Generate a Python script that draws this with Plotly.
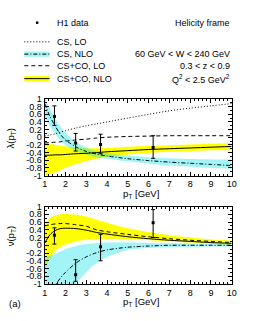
import plotly.graph_objects as go

W, H = 258, 321

# ---------------- data ----------------
pt = [1, 1.25, 1.5, 1.75, 2, 2.5, 3, 3.5, 4, 5, 6, 7, 8, 9, 10]

# lambda(pT) panel
lam_cs_lo = [0.03, 0.06, 0.09, 0.13, 0.17, 0.24, 0.30, 0.35, 0.40, 0.50, 0.60, 0.69, 0.76, 0.82, 0.88]
lam_csco_lo = [-0.15, -0.14, -0.13, -0.12, -0.10, -0.07, -0.05, -0.02, 0.00, 0.02, 0.03, 0.04, 0.04, 0.04, 0.04]
lam_cs_nlo = [0.88, 0.55, 0.30, 0.08, -0.07, -0.25, -0.37, -0.44, -0.49, -0.56, -0.61, -0.65, -0.68, -0.71, -0.74]
lam_cs_nlo_hi = [1.05, 0.75, 0.50, 0.28, 0.12, -0.12, -0.27, -0.36, -0.41, -0.48, -0.52, -0.55, -0.57, -0.58, -0.58]
lam_cs_nlo_lo = [0.55, 0.30, 0.10, -0.08, -0.20, -0.35, -0.45, -0.52, -0.56, -0.63, -0.69, -0.74, -0.77, -0.80, -0.83]
lam_csco_nlo = [-0.47, -0.47, -0.46, -0.46, -0.45, -0.43, -0.42, -0.40, -0.38, -0.35, -0.32, -0.30, -0.28, -0.26, -0.24]
lam_csco_nlo_hi = [-0.15, -0.17, -0.20, -0.22, -0.24, -0.27, -0.29, -0.29, -0.28, -0.25, -0.23, -0.21, -0.19, -0.17, -0.15]
lam_csco_nlo_lo = [-1.05, -0.97, -0.92, -0.86, -0.80, -0.70, -0.62, -0.56, -0.51, -0.45, -0.41, -0.38, -0.36, -0.34, -0.33]

# nu(pT) panel
nu_csco_lo = [0.50, 0.53, 0.55, 0.56, 0.56, 0.53, 0.49, 0.40, 0.35, 0.28, 0.22, 0.17, 0.13, 0.10, 0.07]
nu_cs_nlo = [-1.8, -1.35, -1.05, -0.85, -0.70, -0.46, -0.30, -0.19, -0.12, -0.05, -0.02, 0.00, 0.00, 0.00, 0.00]
nu_cs_nlo_hi = [-0.30, -0.27, -0.22, -0.16, -0.10, -0.02, 0.03, 0.06, 0.07, 0.07, 0.06, 0.05, 0.04, 0.04, 0.03]
nu_cs_nlo_lo = [-2.0, -2.0, -2.0, -1.8, -1.5, -1.0, -0.70, -0.45, -0.30, -0.12, -0.07, -0.05, -0.04, -0.03, -0.03]
nu_csco_nlo = [0.05, 0.27, 0.38, 0.43, 0.44, 0.43, 0.39, 0.33, 0.29, 0.22, 0.17, 0.13, 0.10, 0.07, 0.05]
nu_csco_nlo_hi = [0.55, 0.70, 0.77, 0.80, 0.81, 0.79, 0.74, 0.66, 0.58, 0.44, 0.34, 0.26, 0.20, 0.15, 0.12]
nu_csco_nlo_lo = [-0.65, -0.35, -0.14, -0.05, 0.02, 0.10, 0.14, 0.16, 0.17, 0.16, 0.13, 0.10, 0.07, 0.04, 0.02]

# H1 data
h1_pt = [1.47, 2.49, 3.69, 6.22]
h1_lam = [0.54, -0.15, -0.19, -0.27]
h1_lam_up = [0.28, 0.25, 0.27, 0.31]
h1_lam_dn = [0.23, 0.21, 0.24, 0.28]
h1_nu = [0.26, -0.76, -0.04, 0.58]
h1_nu_up = [0.19, 0.39, 0.32, 0.34]
h1_nu_dn = [0.23, 0.17, 0.36, 0.38]

xtick_vals = [1, 2, 3, 4, 5, 6, 7, 8, 9, 10]
xtick_text = ["1", "2", "3", "4", "5", "6", "7", "8", "9", "10"]
ytick_vals = [1, 0.8, 0.6, 0.4, 0.2, 0, -0.2, -0.4, -0.6, -0.8, -1]
ytick_text = ["1", "0.8", "0.6", "0.4", "0.2", "0", "-0.2", "-0.4", "-0.6", "-0.8", "-1"]

YELLOW = "#ffff00"
CYAN = "rgba(0,225,230,0.36)"
FONT = "Liberation Sans"
DOT = "1px,2px"
DASH = "4px,3px"
DASHDOT = "4px,2px,1px,2px"


def px(x):
    return x / W


def py(y):
    return 1 - y / H


fig = go.Figure()


def add_panel(xa, ya, csco_lo_, csco_hi_, csco_c, cs_lo_, cs_hi_, cs_c, lo_csco, lo_cs, d, dup, ddn):
    sp = dict(shape="spline", smoothing=0.8)
    # yellow band
    fig.add_trace(go.Scatter(x=pt, y=csco_lo_, xaxis=xa, yaxis=ya, mode="lines",
                             line=dict(width=0, color=YELLOW, **sp), showlegend=False, hoverinfo="skip"))
    fig.add_trace(go.Scatter(x=pt, y=csco_hi_, xaxis=xa, yaxis=ya, mode="lines", fill="tonexty",
                             fillcolor=YELLOW, line=dict(width=0, color=YELLOW, **sp),
                             showlegend=False, hoverinfo="skip"))
    # cyan band
    fig.add_trace(go.Scatter(x=pt, y=cs_lo_, xaxis=xa, yaxis=ya, mode="lines",
                             line=dict(width=0, color=CYAN, **sp), showlegend=False, hoverinfo="skip"))
    fig.add_trace(go.Scatter(x=pt, y=cs_hi_, xaxis=xa, yaxis=ya, mode="lines", fill="tonexty",
                             fillcolor=CYAN, line=dict(width=0, color=CYAN, **sp),
                             showlegend=False, hoverinfo="skip"))
    # lines
    if lo_cs is not None:
        fig.add_trace(go.Scatter(x=pt, y=lo_cs, xaxis=xa, yaxis=ya, mode="lines",
                                 line=dict(width=1, color="black", dash=DOT, **sp), showlegend=False))
    fig.add_trace(go.Scatter(x=pt, y=lo_csco, xaxis=xa, yaxis=ya, mode="lines",
                             line=dict(width=1, color="black", dash=DASH, **sp), showlegend=False))
    fig.add_trace(go.Scatter(x=pt, y=cs_c, xaxis=xa, yaxis=ya, mode="lines",
                             line=dict(width=1, color="black", dash=DASHDOT, **sp), showlegend=False))
    fig.add_trace(go.Scatter(x=pt, y=csco_c, xaxis=xa, yaxis=ya, mode="lines",
                             line=dict(width=1, color="black", **sp), showlegend=False))
    # data
    fig.add_trace(go.Scatter(x=h1_pt, y=d, xaxis=xa, yaxis=ya, mode="markers",
                             marker=dict(symbol="square", size=3, color="black"),
                             error_y=dict(type="data", symmetric=False, array=dup, arrayminus=ddn,
                                          color="black", thickness=1, width=2),
                             showlegend=False))


add_panel("x", "y", lam_csco_nlo_lo, lam_csco_nlo_hi, lam_csco_nlo, lam_cs_nlo_lo, lam_cs_nlo_hi,
          lam_cs_nlo, lam_csco_lo, lam_cs_lo, h1_lam, h1_lam_up, h1_lam_dn)
add_panel("x2", "y2", nu_csco_nlo_lo, nu_csco_nlo_hi, nu_csco_nlo, nu_cs_nlo_lo, nu_cs_nlo_hi,
          nu_cs_nlo, nu_csco_lo, None, h1_nu, h1_nu_up, h1_nu_dn)

xdom = [px(43), px(236)]
axfont = dict(family=FONT, size=9, color="black")
xcommon = dict(range=[1, 10], domain=xdom, showline=True, linecolor="black", linewidth=1, mirror="allticks",
               ticks="inside", ticklen=4, tickcolor="black", tickvals=xtick_vals, ticktext=xtick_text,
               tickfont=axfont, showgrid=False, zeroline=False,
               minor=dict(ticks="inside", ticklen=2, dtick=0.2, tickcolor="black", showgrid=False))
ycommon = dict(range=[-1, 1], showline=True, linecolor="black", linewidth=1, mirror="allticks",
               ticks="inside", ticklen=4, tickcolor="black", tickvals=ytick_vals, ticktext=ytick_text,
               tickfont=axfont, showgrid=False, zeroline=False,
               minor=dict(ticks="inside", ticklen=2, dtick=0.1, tickcolor="black", showgrid=False))

fig.update_layout(
    width=W, height=H, margin=dict(l=0, r=0, t=0, b=0, pad=0),
    paper_bgcolor="white", plot_bgcolor="white", showlegend=False,
    font=dict(family=FONT, size=9, color="black"),
    xaxis=dict(anchor="y", **xcommon),
    yaxis=dict(anchor="x", domain=[py(176), py(97)], **ycommon),
    xaxis2=dict(anchor="y2", **xcommon),
    yaxis2=dict(anchor="x2", domain=[py(288), py(208)], **ycommon),
)

shapes = []
ann = []


def text(x, y, s, anchor="left", size=9, angle=0):
    ann.append(dict(x=px(x), y=py(y), xref="paper", yref="paper", text=s, showarrow=False,
                    xanchor=anchor, yanchor="middle", textangle=angle,
                    font=dict(family=FONT, size=size, color="black")))


def hline(x0, x1, y, dash="solid"):
    shapes.append(dict(type="line", xref="paper", yref="paper", x0=px(x0), x1=px(x1), y0=py(y), y1=py(y),
                       line=dict(color="black", width=1, dash=dash)))


# legend
shapes.append(dict(type="rect", xref="paper", yref="paper", x0=px(34), x1=px(36.5), y0=py(19.5), y1=py(17),
                   fillcolor="black", line=dict(width=0)))
text(54, 18.5, "H1 data")
text(236, 18.5, "Helicity frame", anchor="right")
hline(22, 48, 38, DOT)
text(54, 38, "CS, LO")
shapes.append(dict(type="rect", xref="paper", yref="paper", x0=px(22), x1=px(48), y0=py(53.5), y1=py(48),
                   fillcolor=CYAN, line=dict(width=0)))
hline(22, 48, 50.7, DASHDOT)
text(54, 50.7, "CS, NLO")
hline(22, 48, 62.7, DASH)
text(54, 62.7, "CS+CO, LO")
shapes.append(dict(type="rect", xref="paper", yref="paper", x0=px(22), x1=px(48), y0=py(79), y1=py(73.3),
                   fillcolor=YELLOW, line=dict(width=0)))
hline(22, 48, 76)
text(54, 76, "CS+CO, NLO")
text(236, 50.7, "60 GeV &lt; W &lt; 240 GeV", anchor="right")
text(236, 62.7, "0.3 &lt; z &lt; 0.9", anchor="right")
text(236, 76, "Q<sup>2</sup> &lt; 2.5 GeV<sup>2</sup>", anchor="right")

# axis titles
text(142, 195, "p<sub>T</sub> [GeV]", anchor="center", size=9.5)
text(142, 307, "p<sub>T</sub> [GeV]", anchor="center", size=9.5)
text(8, 138, "λ(p<sub>T</sub>)", anchor="center", size=9.5, angle=-90)
text(8, 239, "ν(p<sub>T</sub>)", anchor="center", size=9.5, angle=-90)
text(12, 308, "(a)", anchor="center", size=9.5)

fig.update_layout(shapes=shapes, annotations=ann)
fig.write_html("out.html", config={"displayModeBar": False, "staticPlot": True},
               post_script="document.body.style.margin='0';document.body.style.overflow='hidden';")
